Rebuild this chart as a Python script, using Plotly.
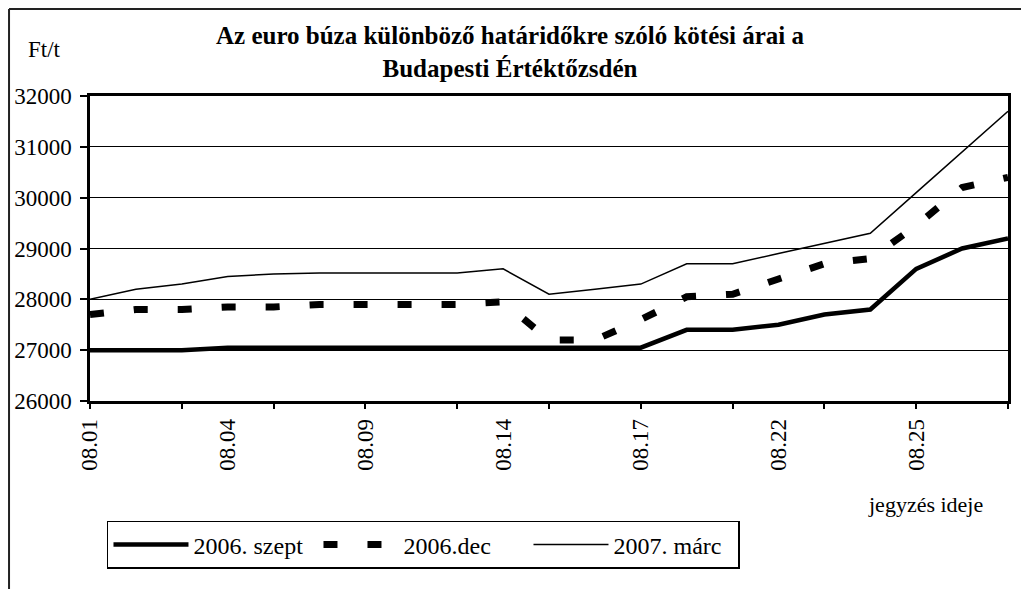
import plotly.graph_objects as go

dates = ["08.01", "08.02", "08.03", "08.04", "08.07", "08.08", "08.09", "08.10",
         "08.11", "08.14", "08.15", "08.16", "08.17", "08.18", "08.21", "08.22",
         "08.23", "08.24", "08.25", "08.28", "08.29"]
szept = [27000, 27000, 27000, 27050, 27050, 27050, 27050, 27050, 27050, 27050,
         27050, 27050, 27050, 27400, 27400, 27500, 27700, 27800, 28600, 29000, 29200]
dec = [27700, 27800, 27800, 27850, 27850, 27900, 27900, 27900, 27900, 27950,
       27200, 27200, 27600, 28050, 28100, 28400, 28700, 28800, 29450, 30200, 30400]
marc = [28000, 28200, 28300, 28450, 28500, 28520, 28520, 28520, 28520, 28600,
        28100, 28200, 28300, 28700, 28700, 28900, 29100, 29300, 30100, 30900, 31700]
label_every = 3
tick_every = 2

idx = list(range(len(dates)))
FONT = "Times New Roman, Liberation Serif, serif"

fig = go.Figure()
fig.add_trace(go.Scatter(x=idx, y=szept, name="2006. szept", mode="lines",
                         line=dict(color="black", width=4.5)))
fig.add_trace(go.Scatter(x=idx, y=dec, name="2006.dec", mode="lines",
                         line=dict(color="black", width=7, dash="14px,30px")))
fig.add_trace(go.Scatter(x=idx, y=marc, name="2007. márc", mode="lines",
                         line=dict(color="black", width=1.5)))
fig.add_trace(go.Scatter(x=[None], y=[None], xaxis="x2", showlegend=False,
                         hoverinfo="skip"))

fig.update_layout(
    width=1021, height=581,
    margin=dict(l=82, r=21, t=88, b=188, autoexpand=False),
    paper_bgcolor="white", plot_bgcolor="white",
    font=dict(family=FONT, size=23, color="black"),
    title=dict(text="<b>Az euro búza különböző határidőkre szóló kötési árai a<br>Budapesti Értéktőzsdén</b>",
               x=0.4575, xref="paper", xanchor="center",
               y=1 - 36 / 581, yref="container", yanchor="middle",
               font=dict(family=FONT, size=25, color="black")),
    xaxis=dict(range=[0, len(dates) - 1], tickmode="array",
               tickvals=idx[::label_every], ticktext=dates[::label_every],
               tickangle=-90, ticks="", showgrid=False, zeroline=False,
               showline=True, linecolor="black", linewidth=2.5, mirror=True,
               automargin=False, ticklabelstandoff=6,
               tickfont=dict(family=FONT, size=23)),
    xaxis2=dict(range=[0, len(dates) - 1], overlaying="x", anchor="y", side="bottom",
                tickmode="array", tickvals=idx[::tick_every], ticks="outside",
                ticklen=7, tickwidth=2, tickcolor="black", showticklabels=False,
                showgrid=False, zeroline=False, showline=False, automargin=False),
    yaxis=dict(range=[26000, 32000], dtick=1000, tickformat="d", ticks="outside",
               ticklen=7, tickwidth=2, tickcolor="black", showgrid=True,
               gridcolor="black", gridwidth=1, zeroline=False, showline=True,
               linecolor="black", linewidth=2.5, mirror=True, automargin=False,
               ticklabelstandoff=4, tickfont=dict(family=FONT, size=23)),
    legend=dict(orientation="h", x=0.0185, y=-0.393, xanchor="left", yanchor="top",
                bordercolor="black", borderwidth=1.5, bgcolor="white",
                itemwidth=75, entrywidth=120, entrywidthmode="pixels",
                font=dict(family=FONT, size=24)),
    showlegend=True,
)

fig.add_annotation(text="Ft/t", xref="paper", yref="paper", x=-0.050, y=1.151,
                   xanchor="center", yanchor="middle",
                   showarrow=False, font=dict(family=FONT, size=23))
fig.add_annotation(text="jegyzés ideje", xref="paper", yref="paper", x=0.9105, y=-0.338,
                   xanchor="center", yanchor="middle",
                   showarrow=False, font=dict(family=FONT, size=22))

# outer chart frame (left and top edges visible in the reference)
fig.add_shape(type="line", xref="paper", yref="paper", x0=-0.0882, y0=1.2852,
              x1=1.1, y1=1.2852, line=dict(color="#222", width=2))
fig.add_shape(type="line", xref="paper", yref="paper", x0=-0.0882, y0=1.2852,
              x1=-0.0882, y1=-0.7, line=dict(color="#222", width=2))

fig.write_html("out.html")
